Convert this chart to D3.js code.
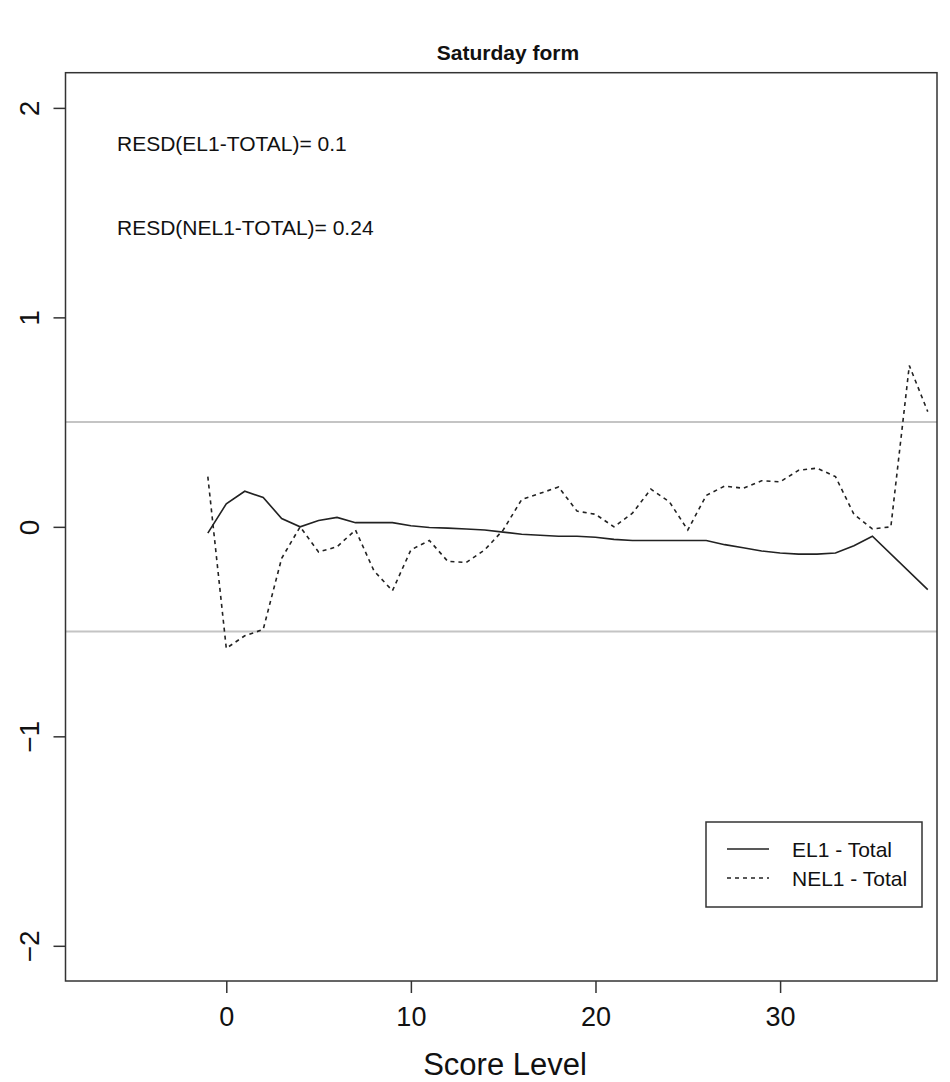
<!DOCTYPE html>
<html>
<head>
<meta charset="utf-8">
<script src="https://cdnjs.cloudflare.com/ajax/libs/d3/7.8.5/d3.min.js"></script>
<style>
	body { margin: 0; background: #ffffff; }
	text { font-family: "Liberation Sans", Arial, sans-serif; fill: #111111; }
</style>
</head>
<body>
<svg id="mysvg" width="950" height="1082"></svg>
<script>

// score levels on the x axis
var scoreLevels = [-1, 0, 1, 2, 3, 4, 5, 6, 7, 8, 9, 10, 11, 12, 13, 14, 15, 16, 17, 18, 19,
	20, 21, 22, 23, 24, 25, 26, 27, 28, 29, 30, 31, 32, 33, 34, 35, 36, 37, 38];

// EL1 - Total (no values at 36 and 37)
var el1Total = [-0.03, 0.11, 0.17, 0.14, 0.04, 0.0, 0.03, 0.045, 0.02, 0.02, 0.02, 0.005, -0.003, -0.006,
	-0.01, -0.015, -0.025, -0.035, -0.04, -0.045, -0.045, -0.05, -0.06, -0.065, -0.065, -0.065, -0.065,
	-0.065, -0.085, -0.10, -0.115, -0.125, -0.13, -0.13, -0.125, -0.09, -0.045, null, null, -0.30];

// NEL1 - Total
var nel1Total = [0.24, -0.58, -0.52, -0.49, -0.15, 0.0, -0.12, -0.095, -0.015, -0.21, -0.305, -0.11,
	-0.065, -0.165, -0.17, -0.11, -0.015, 0.13, 0.16, 0.19, 0.075, 0.06, 0.0, 0.065, 0.18, 0.12, -0.015,
	0.15, 0.195, 0.184, 0.22, 0.215, 0.27, 0.28, 0.24, 0.06, -0.01, 0.0, 0.77, 0.55];

var xTicks = [0, 10, 20, 30];
var yTicks = [-2, -1, 0, 1, 2];
var refLines = [-0.5, 0.5];

var notes = ["RESD(EL1-TOTAL)= 0.1", "RESD(NEL1-TOTAL)= 0.24"];
var noteY = [1.8, 1.4];
var legendNames = ["EL1 - Total", "NEL1 - Total"];

function makePlot () {

	var svg = d3.select("#mysvg");

	var left = 65.5, right = 937, top = 72.7, bottom = 981;

	var x = d3.scaleLinear().domain([-8.71, 38.5]).range([left, right]);
	var y = d3.scaleLinear().domain([-2.168, 2.168]).range([bottom, top]);

	svg.append("rect")
			.attr("width", 950)
			.attr("height", 1082)
			.attr("fill", "#ffffff");

	// title
	svg.append("text")
			.attr("x", 508)
			.attr("y", 60)
			.attr("text-anchor", "middle")
			.attr("font-size", 21)
			.attr("font-weight", "bold")
			.text("Saturday form");

	// grey reference lines
	svg.append("g").selectAll("line")
			.data(refLines)
			.enter().append("line")
			.attr("x1", left)
			.attr("x2", right)
			.attr("y1", function(d) { return y(d); })
			.attr("y2", function(d) { return y(d); })
			.attr("stroke", "#c4c4c4")
			.attr("stroke-width", 2);

	// the two series
	var ptsEl1 = scoreLevels.map(function(s, i) { return [s, el1Total[i]]; })
			.filter(function(p) { return p[1] !== null; });
	var ptsNel1 = scoreLevels.map(function(s, i) { return [s, nel1Total[i]]; });

	var line = d3.line()
			.x(function(p) { return x(p[0]); })
			.y(function(p) { return y(p[1]); });

	svg.append("path")
			.attr("d", line(ptsEl1))
			.attr("fill", "none")
			.attr("stroke", "#222222")
			.attr("stroke-width", 1.6);

	svg.append("path")
			.attr("d", line(ptsNel1))
			.attr("fill", "none")
			.attr("stroke", "#222222")
			.attr("stroke-width", 1.6)
			.attr("stroke-dasharray", "4,4");

	// axes
	var xAxis = svg.append("g")
			.attr("transform", "translate(0," + bottom + ")")
			.call(d3.axisBottom(x).tickValues(xTicks).tickSize(12).tickPadding(14).tickFormat(d3.format("d")));
	xAxis.select(".domain").remove();
	xAxis.selectAll("line").attr("stroke", "#333333").attr("stroke-width", 1.5);
	xAxis.selectAll("text")
			.attr("font-size", 27)
			.attr("font-family", "Liberation Sans, Arial, sans-serif")
			.attr("fill", "#111111");

	var yAxis = svg.append("g")
			.attr("transform", "translate(" + left + ",0)")
			.call(d3.axisLeft(y).tickValues(yTicks).tickSize(12).tickFormat(d3.format("d")));
	yAxis.select(".domain").remove();
	yAxis.selectAll("line").attr("stroke", "#333333").attr("stroke-width", 1.5);
	yAxis.selectAll("text")
			.attr("font-size", 28)
			.attr("font-family", "Liberation Sans, Arial, sans-serif")
			.attr("fill", "#111111")
			.attr("text-anchor", "middle")
			.attr("x", 0)
			.attr("dy", 0)
			.attr("transform", "translate(-27,0) rotate(-90)");

	// frame
	svg.append("rect")
			.attr("x", left)
			.attr("y", top)
			.attr("width", right - left)
			.attr("height", bottom - top)
			.attr("fill", "none")
			.attr("stroke", "#333333")
			.attr("stroke-width", 1.5);

	svg.append("text")
			.attr("x", 505)
			.attr("y", 1075)
			.attr("text-anchor", "middle")
			.attr("font-size", 31)
			.text("Score Level");

	// notes
	svg.append("g").selectAll("text")
			.data(notes)
			.enter().append("text")
			.attr("x", 117)
			.attr("y", function(d, i) { return y(noteY[i]) + 1; })
			.attr("font-size", 21)
			.text(function(d) { return d; });

	// legend
	var legend = svg.append("g").attr("transform", "translate(706,822)");
	legend.append("rect")
			.attr("width", 216)
			.attr("height", 85)
			.attr("fill", "#ffffff")
			.attr("stroke", "#333333")
			.attr("stroke-width", 1.5);
	legendNames.forEach(function(name, i) {
		legend.append("line")
				.attr("x1", 21)
				.attr("x2", 63)
				.attr("y1", 27 + i * 29)
				.attr("y2", 27 + i * 29)
				.attr("stroke", "#222222")
				.attr("stroke-width", 1.6)
				.attr("stroke-dasharray", i == 1 ? "4,4" : null);
		legend.append("text")
				.attr("x", 86)
				.attr("y", 34.5 + i * 29)
				.attr("font-size", 21)
				.text(name);
	});
}

makePlot();
</script>
</body>
</html>
